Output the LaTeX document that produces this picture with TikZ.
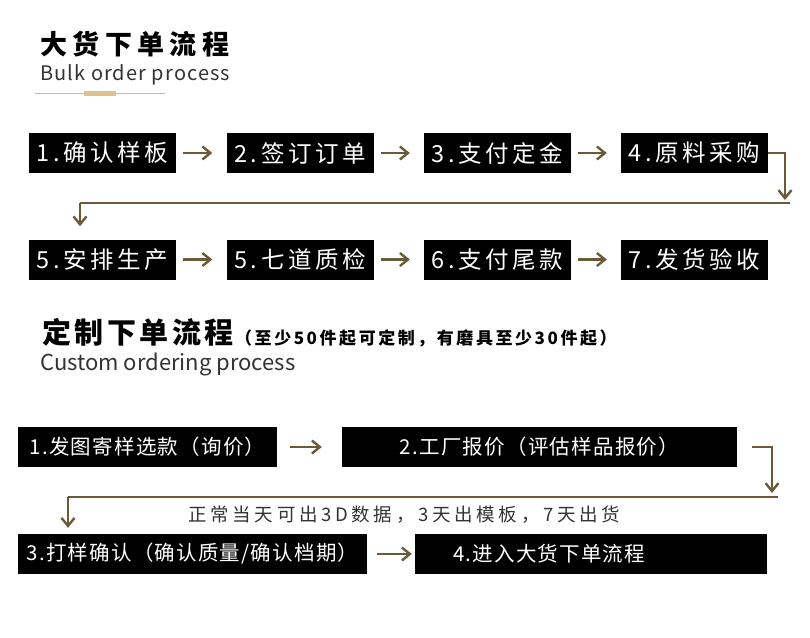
\documentclass[tikz,border=0pt]{standalone}
\usepackage{fontspec}
\usetikzlibrary{arrows.meta}
\newfontfamily\cjk{Noto Sans CJK SC}
\definecolor{conn}{HTML}{6B5A3A}
\definecolor{goldbar}{HTML}{DFC08F}
\definecolor{greyline}{HTML}{BBBBBB}
\definecolor{txt}{HTML}{333333}
\tikzset{
  bx/.style={fill=black, text=white, inner sep=0pt, minimum height=40pt, font=\cjk},
  rowbox/.style={bx, minimum width=147pt, font=\cjk\fontsize{23.5}{24}\selectfont\addfontfeatures{LetterSpace=15}},
  cbox/.style={bx, font=\cjk\fontsize{20.5}{21}\selectfont\addfontfeatures{LetterSpace=6}},
  arr/.style={draw=conn, line width=2.6pt, -{Straight Barb[length=8pt,width=13pt,line width=2.4pt]}},
  conline/.style={draw=conn, line width=2.6pt},
  lbl/.style={inner sep=0pt, anchor=base west},
}
\begin{document}
\begin{tikzpicture}[x=1pt,y=-1pt]
\useasboundingbox (0,0) rectangle (810,637);
\fill[white] (0,0) rectangle (810,637);
% titles
\node[lbl, text=black, font=\cjk\bfseries\fontsize{27}{28}\selectfont\addfontfeatures{LetterSpace=20}] (t1) at (40,54) {大货下单流程};
\node[lbl, text=txt, font=\cjk\fontsize{20}{22}\selectfont\addfontfeatures{LetterSpace=5.5}] (e1) at (40,80) {Bulk order process};
\draw[greyline, line width=1pt] (35,93) -- (165,93);
\fill[goldbar] (84,90.5) rectangle (116,95.5);
% row 1
\node[rowbox] (b1) at (102.5,153) {1.确认样板};
\node[rowbox] (b2) at (300,153) {2.签订订单};
\node[rowbox] (b3) at (497.5,153) {3.支付定金};
\node[rowbox] (b4) at (694.5,153) {4.原料采购};
% row 2
\node[rowbox] (b5) at (102.5,259.5) {5.安排生产};
\node[rowbox] (b6) at (300,259.5) {5.七道质检};
\node[rowbox] (b7) at (497.5,259.5) {6.支付尾款};
\node[rowbox] (b8) at (694.5,259.5) {7.发货验收};
\foreach \a/\b in {b1/b2,b2/b3,b3/b4,b5/b6,b6/b7,b7/b8}
  \draw[arr, shorten <=7pt, shorten >=14pt] (\a.east) -- (\b.west);
% turn connector 1
\coordinate (k1) at (785,200);
\coordinate (h1r) at (790,203);
\coordinate (h1l) at (80,203);
\draw[arr] (b4.east) -| (k1);
\draw[conline] (h1r) -- (h1l);
\draw[arr, shorten >=13pt] (h1l) -- (h1l |- b5.north);
% section 2 titles
\node[lbl, text=black, font=\cjk\bfseries\fontsize{29}{30}\selectfont\addfontfeatures{LetterSpace=12}] (t2) at (42,343) {定制下单流程};
\node[lbl, text=black, font=\cjk\bfseries\fontsize{17}{18}\selectfont\addfontfeatures{LetterSpace=15}] (t2b) at (235,344) {（至少50件起可定制，有磨具至少30件起）};
\node[lbl, text=txt, font=\cjk\fontsize{22}{24}\selectfont] (e2) at (40,370) {Custom ordering process};
% custom boxes
\node[cbox, minimum width=259pt] (c1) at (147.5,447) {1.发图寄样选款（询价）};
\node[cbox, minimum width=395pt] (c2) at (539.5,447) {2.工厂报价（评估样品报价）};
\node[cbox, minimum width=349pt] (c3) at (192.5,554) {3.打样确认（确认质量/确认档期）};
\node[cbox, text width=276pt, align=left, inner xsep=38pt, inner ysep=0pt, minimum height=40pt] (c4) at (591,554) {4.进入大货下单流程};
\draw[arr, shorten <=13pt, shorten >=20pt] (c1.east) -- (c2.west);
\draw[arr, shorten <=10pt, shorten >=3pt] (c3.east) -- (c4.west);
% turn connector 2
\coordinate (k2s) at ([xshift=15pt]c2.east);
\coordinate (k2) at (772,493);
\coordinate (h2r) at (778,497);
\coordinate (h2l) at (68,497);
\draw[arr] (k2s) -| (k2);
\draw[conline] (h2r) -- (h2l);
\draw[arr, shorten >=6pt] (h2l) -- (h2l |- c3.north);
\node[lbl, text=txt, font=\cjk\fontsize{18.5}{20}\selectfont\addfontfeatures{LetterSpace=20}] (note) at (188,521) {正常当天可出3D数据，3天出模板，7天出货};
\end{tikzpicture}
\end{document}
